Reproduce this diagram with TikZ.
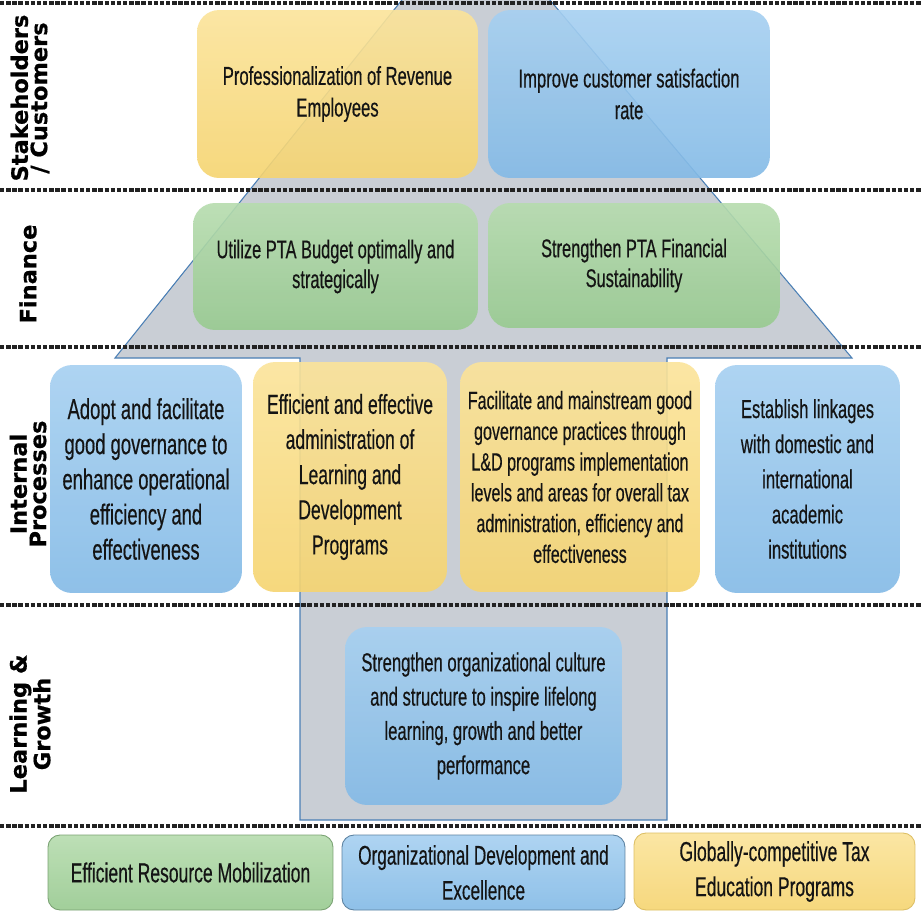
\documentclass[tikz,border=0pt]{standalone}
\usepackage{fontspec}
\newfontfamily\goalfont{Liberation Sans}[FakeStretch=0.64, FakeBold=0.4]
\newfontfamily\perspfont{DejaVu Sans}[BoldFeatures={FakeBold=0.6}]

\definecolor{yellowtop}{HTML}{FBE49A}
\definecolor{yellowbot}{HTML}{F6D470}
\definecolor{bluetop}{HTML}{A6D0F1}
\definecolor{bluebot}{HTML}{83BAE6}
\definecolor{greentop}{HTML}{B6DCAE}
\definecolor{greenbot}{HTML}{98CA90}
\definecolor{housegray}{HTML}{C9CED5}
\definecolor{houseedge}{HTML}{4A7FB5}
\definecolor{goaltext}{HTML}{141414}
\definecolor{linegray}{HTML}{222222}

\tikzset{
  goal/.style={rounded corners=0.44cm, align=center, inner sep=2pt,
    text=goaltext, fill opacity=0.9, text opacity=1},
  yellowgoal/.style={goal, top color=yellowtop, bottom color=yellowbot},
  bluegoal/.style={goal, top color=bluetop, bottom color=bluebot},
  greengoal/.style={goal, top color=greentop, bottom color=greenbot},
  theme/.style={rounded corners=0.24cm, line width=0.5pt},
  perspective/.style={rotate=90, align=center, text=black,
    font=\perspfont\bfseries\fontsize{12.8}{11}\selectfont},
  rowline/.style={draw=linegray, line width=1.8pt, dash pattern=on 2.5pt off 1pt},
  house/.style={fill=housegray, draw=houseedge, line width=0.6pt}
}

\begin{document}
\begin{tikzpicture}[x=0.02cm, y=-0.02cm]
  \useasboundingbox (0,0) rectangle (921,914);
  \fill[white] (0,0) rectangle (921,914);

  % grey house behind the objectives
  \begin{scope}
    \clip (0,0) rectangle (921,914);
    \draw[house] (474,-90) -- (852,358) -- (667,358) -- (667,820)
      -- (300,820) -- (300,358) -- (115,358) -- cycle;
  \end{scope}

  % perspective separators
  \foreach \y in {3,190,347,605,826}
    \draw[rowline] (0,\y) -- (921,\y);

  % perspectives
  \node[perspective] (stake) at (30,98) {Stakeholders\\/ Customers};
  \node[perspective] (fin) at (28,274) {Finance};
  \node[perspective] (intproc) at (28,484) {Internal\\Processes};
  \node[perspective] (learn) at (30,724) {Learning \&\\Growth};

  % stakeholders / customers
  \node[yellowgoal, minimum width=5.62cm, minimum height=3.36cm,
    font=\goalfont\fontsize{14.8}{18}\selectfont] (profemp) at (337.5,94)
    {Professionalization of Revenue\\Employees};
  \node[bluegoal, minimum width=5.64cm, minimum height=3.36cm,
    font=\goalfont\fontsize{14.8}{18}\selectfont] (custsat) at (629,94)
    {Improve customer satisfaction\\rate};

  % finance
  \node[greengoal, minimum width=5.7cm, minimum height=2.54cm,
    font=\goalfont\fontsize{14.6}{17}\selectfont] (budget) at (335.5,266.5)
    {Utilize PTA Budget optimally and\\strategically};
  \node[greengoal, minimum width=5.84cm, minimum height=2.5cm,
    font=\goalfont\fontsize{14.6}{17}\selectfont] (sustain) at (634,265.5)
    {Strengthen PTA Financial\\Sustainability};

  % internal processes
  \node[bluegoal, minimum width=3.84cm, minimum height=4.56cm,
    font=\goalfont\fontsize{16.4}{20}\selectfont] (governance) at (146,479)
    {Adopt and facilitate\\good governance to\\enhance operational\\efficiency and\\effectiveness};
  \node[yellowgoal, minimum width=3.88cm, minimum height=4.6cm,
    font=\goalfont\fontsize{15.6}{20}\selectfont] (ldadmin) at (350,477)
    {Efficient and effective\\administration of\\Learning and\\Development\\Programs};
  \node[yellowgoal, minimum width=4.8cm, minimum height=4.6cm,
    font=\goalfont\fontsize{14.3}{17.5}\selectfont] (mainstream) at (580,477)
    {Facilitate and mainstream good\\governance practices through\\L\&D programs implementation\\levels and areas for overall tax\\administration, efficiency and\\effectiveness};
  \node[bluegoal, minimum width=3.7cm, minimum height=4.56cm,
    font=\goalfont\fontsize{14.8}{20}\selectfont] (linkages) at (807.5,479)
    {Establish linkages\\with domestic and\\international\\academic\\institutions};

  % learning & growth
  \node[bluegoal, minimum width=5.54cm, minimum height=3.56cm,
    font=\goalfont\fontsize{14.8}{19.5}\selectfont] (culture) at (483.5,716)
    {Strengthen organizational culture\\and structure to inspire lifelong\\learning, growth and better\\performance};

  % strategic themes
  \node[greengoal, theme, draw=greenbot!80!black, minimum width=5.7cm, minimum height=1.5cm,
    font=\goalfont\fontsize{15.6}{20}\selectfont] (resmob) at (190.5,872.5)
    {Efficient Resource Mobilization};
  \node[bluegoal, theme, draw=bluebot!70!black, minimum width=5.66cm, minimum height=1.5cm,
    font=\goalfont\fontsize{15.3}{20}\selectfont] (orgdev) at (483.5,872.5)
    {Organizational Development and\\Excellence};
  \node[yellowgoal, theme, draw=yellowbot!90!black, minimum width=5.62cm, minimum height=1.54cm,
    font=\goalfont\fontsize{15.6}{20}\selectfont] (taxedu) at (774.5,871.5)
    {Globally-competitive Tax\\Education Programs};
\end{tikzpicture}
\end{document}
